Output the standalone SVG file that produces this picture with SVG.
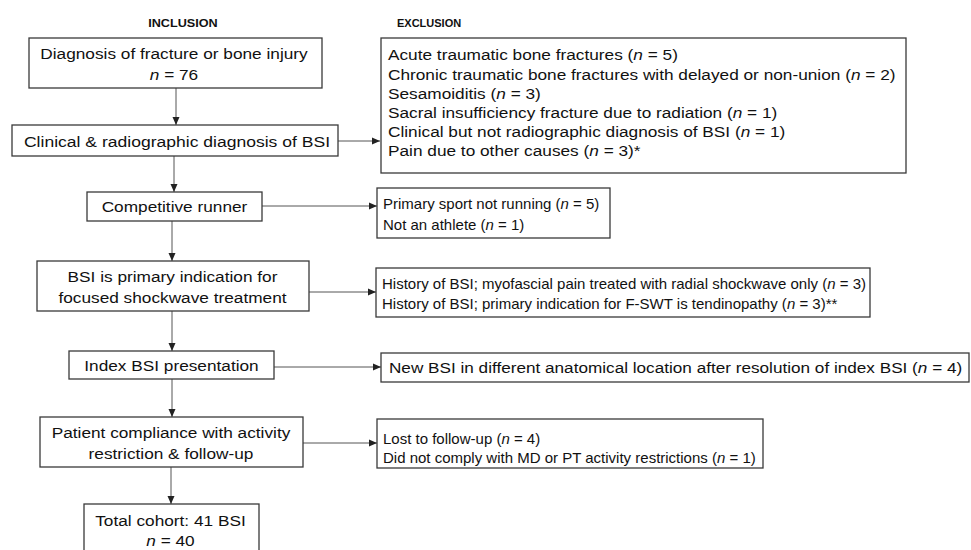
<svg xmlns="http://www.w3.org/2000/svg" width="971" height="550" viewBox="0 0 971 550">
<style>
.box{fill:#fff;stroke:#3a3a3a;stroke-width:1.3}
.t{font-family:"Liberation Sans",Arial,sans-serif;font-size:15px;fill:#111}
.c{text-anchor:middle}
.h{font-family:"Liberation Sans",Arial,sans-serif;font-size:11px;font-weight:bold;fill:#111}
.ln{stroke:#555;stroke-width:1;fill:none;marker-end:url(#ah)}
</style>
<defs>
<marker id="ah" viewBox="0 0 8 8" refX="8" refY="4" markerWidth="8" markerHeight="8" markerUnits="userSpaceOnUse" orient="auto">
<path d="M0,0.5 L8,4 L0,7.5 Z" fill="#222"/>
</marker>
</defs>
<rect width="971" height="550" fill="#fff"/>
<g transform="matrix(1.15,0,0,1,-27.45,0)"><text class="h c" x="183" y="27">INCLUSION</text></g>
<text class="h" x="397" y="27">EXCLUSION</text>

<g id="connectors">
<line class="ln" x1="176" y1="88" x2="176" y2="125"/>
<line class="ln" x1="338" y1="141" x2="380" y2="141"/>
<line class="ln" x1="174" y1="156" x2="174" y2="192"/>
<line class="ln" x1="262" y1="206" x2="377" y2="206"/>
<line class="ln" x1="172" y1="221" x2="172" y2="261"/>
<line class="ln" x1="309" y1="292" x2="376" y2="292"/>
<line class="ln" x1="172" y1="311" x2="172" y2="351"/>
<line class="ln" x1="274" y1="367" x2="381" y2="367"/>
<line class="ln" x1="172" y1="379" x2="172" y2="417"/>
<line class="ln" x1="303" y1="443" x2="377" y2="443"/>
<line class="ln" x1="171" y1="467" x2="171" y2="504"/>
</g>

<g id="inc1">
<rect class="box" x="29" y="38" width="293" height="50"/>
<g transform="matrix(1.15,0,0,1,-26.1,0)">
<text class="t c" x="174" y="59">Diagnosis of fracture or bone injury</text>
<text class="t c" x="174" y="80"><tspan font-style="italic">n</tspan> = 76</text>
</g>
</g>
<g id="inc2">
<rect class="box" x="12" y="125" width="326" height="31"/>
<g transform="matrix(1.17,0,0,1,-30.09,0)">
<text class="t c" x="177" y="147">Clinical &amp; radiographic diagnosis of BSI</text>
</g>
</g>
<g id="inc3">
<rect class="box" x="87" y="192" width="175" height="29"/>
<g transform="matrix(1.15,0,0,1,-26.18,0)">
<text class="t c" x="174.5" y="212">Competitive runner</text>
</g>
</g>
<g id="inc4">
<rect class="box" x="37" y="261" width="272" height="50"/>
<g transform="matrix(1.15,0,0,1,-25.88,0)">
<text class="t c" x="172.5" y="282">BSI is primary indication for</text>
<text class="t c" x="172.5" y="303">focused shockwave treatment</text>
</g>
</g>
<g id="inc5">
<rect class="box" x="69" y="351" width="205" height="28"/>
<g transform="matrix(1.15,0,0,1,-25.73,0)">
<text class="t c" x="171.5" y="371">Index BSI presentation</text>
</g>
</g>
<g id="inc6">
<rect class="box" x="40" y="417" width="263" height="50"/>
<g transform="matrix(1.15,0,0,1,-25.65,0)">
<text class="t c" x="171" y="438">Patient compliance with activity</text>
<text class="t c" x="171" y="459">restriction &amp; follow-up</text>
</g>
</g>
<g id="inc7">
<rect class="box" x="84" y="504" width="175" height="60"/>
<g transform="matrix(1.15,0,0,1,-25.58,0)">
<text class="t c" x="170.5" y="526">Total cohort: 41 BSI</text>
<text class="t c" x="170.5" y="546"><tspan font-style="italic">n</tspan> = 40</text>
</g>
</g>

<g id="exc1">
<rect class="box" x="381" y="38" width="525" height="135"/>
<g transform="matrix(1.15,0,0,1,-58.2,0)">
<text class="t" x="388" y="60">Acute traumatic bone fractures (<tspan font-style="italic">n</tspan> = 5)</text>
<text class="t" x="388" y="80">Chronic traumatic bone fractures with delayed or non-union (<tspan font-style="italic">n</tspan> = 2)</text>
<text class="t" x="388" y="99">Sesamoiditis (<tspan font-style="italic">n</tspan> = 3)</text>
<text class="t" x="388" y="118">Sacral insufficiency fracture due to radiation (<tspan font-style="italic">n</tspan> = 1)</text>
<text class="t" x="388" y="137">Clinical but not radiographic diagnosis of BSI (<tspan font-style="italic">n</tspan> = 1)</text>
<text class="t" x="388" y="156">Pain due to other causes (<tspan font-style="italic">n</tspan> = 3)*</text>
</g>
</g>
<g id="exc2">
<rect class="box" x="377" y="188" width="233" height="50"/>
<text class="t" x="383" y="209">Primary sport not running (<tspan font-style="italic">n</tspan> = 5)</text>
<text class="t" x="383" y="230">Not an athlete (<tspan font-style="italic">n</tspan> = 1)</text>
</g>
<g id="exc3">
<rect class="box" x="376" y="268" width="494" height="49"/>
<text class="t" x="382" y="289">History of BSI; myofascial pain treated with radial shockwave only (<tspan font-style="italic">n</tspan> = 3)</text>
<text class="t" x="382" y="309">History of BSI; primary indication for F-SWT is tendinopathy (<tspan font-style="italic">n</tspan> = 3)**</text>
</g>
<g id="exc4">
<rect class="box" x="381" y="353" width="588" height="29"/>
<g transform="matrix(1.144,0,0,1,-56.02,0)">
<text class="t" x="389" y="373">New BSI in different anatomical location after resolution of index BSI (<tspan font-style="italic">n</tspan> = 4)</text>
</g>
</g>
<g id="exc5">
<rect class="box" x="377" y="419" width="386" height="49"/>
<text class="t" x="383" y="444">Lost to follow-up (<tspan font-style="italic">n</tspan> = 4)</text>
<text class="t" x="383" y="463">Did not comply with MD or PT activity restrictions (<tspan font-style="italic">n</tspan> = 1)</text>
</g>
</svg>
